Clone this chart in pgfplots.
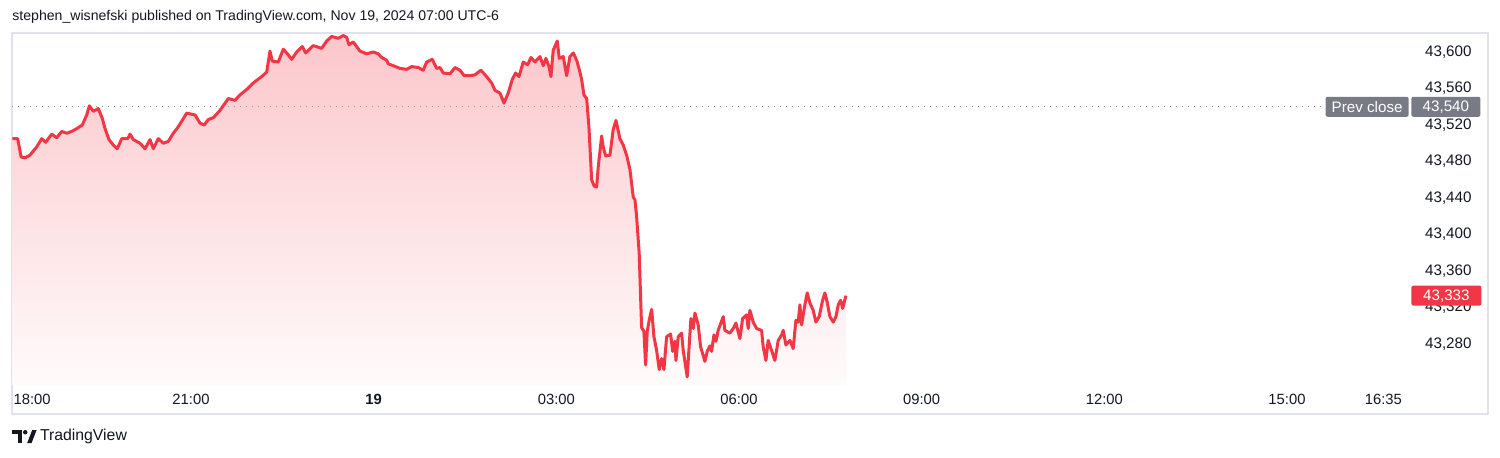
\documentclass[border=0pt]{standalone}
\usepackage{fontspec}
\setmainfont{Liberation Sans}
\usepackage{pgfplots}
\usepackage{pgfplotstable}
\pgfplotsset{compat=1.18}
\definecolor{tvred}{HTML}{F23645}
\definecolor{tvtext}{HTML}{131722}
\definecolor{tvgray}{HTML}{787B86}
\definecolor{tvdot}{HTML}{9598A1}
\definecolor{tvborder}{HTML}{E0E3EB}

\pgfplotstableread{
h p
0.066 43505
0.154 43505
0.209 43485
0.274 43484
0.356 43487
0.466 43496
0.548 43505
0.614 43501
0.657 43505
0.713 43510
0.795 43506
0.877 43513
0.959 43511
1.041 43513
1.123 43516
1.215 43520
1.287 43531
1.330 43541
1.396 43535
1.478 43538
1.544 43527
1.588 43516
1.653 43504
1.724 43498
1.790 43494
1.862 43505
1.961 43505
1.998 43510
2.053 43504
2.163 43500
2.245 43494
2.327 43504
2.381 43494
2.463 43505
2.545 43500
2.627 43502
2.709 43511
2.791 43518
2.929 43533
3.066 43531
3.148 43522
3.218 43520
3.284 43526
3.366 43528
3.476 43536
3.612 43549
3.722 43547
3.805 43553
3.915 43559
4.023 43566
4.079 43569
4.161 43573
4.243 43578
4.297 43601
4.335 43590
4.433 43589
4.516 43603
4.571 43599
4.654 43592
4.736 43600
4.828 43606
4.883 43599
5.008 43607
5.146 43604
5.228 43612
5.310 43617
5.419 43615
5.501 43618
5.557 43616
5.594 43608
5.665 43611
5.775 43601
5.885 43598
5.993 43600
6.076 43598
6.131 43594
6.213 43591
6.240 43587
6.322 43585
6.432 43582
6.542 43581
6.624 43584
6.732 43583
6.814 43580
6.870 43589
6.962 43592
7.034 43582
7.089 43583
7.143 43577
7.253 43576
7.335 43583
7.417 43580
7.488 43574
7.581 43574
7.663 43575
7.762 43580
7.855 43573
7.938 43566
7.992 43558
8.074 43555
8.140 43544
8.210 43555
8.276 43570
8.332 43577
8.386 43573
8.456 43589
8.529 43586
8.583 43594
8.649 43589
8.731 43595
8.785 43585
8.829 43593
8.879 43584
8.911 43573
8.949 43602
9.015 43612
9.048 43593
9.113 43595
9.169 43574
9.223 43595
9.278 43599
9.333 43591
9.376 43581
9.415 43570
9.453 43553
9.498 43549
9.535 43518
9.580 43460
9.622 43453
9.662 43452
9.688 43474
9.744 43508
9.770 43496
9.810 43486
9.880 43487
9.934 43515
9.979 43525
10.044 43505
10.099 43498
10.154 43487
10.209 43471
10.263 43441
10.291 43438
10.318 43420
10.361 43379
10.400 43298
10.438 43294
10.466 43257
10.493 43294
10.525 43306
10.565 43318
10.603 43288
10.647 43273
10.690 43252
10.729 43264
10.767 43252
10.811 43288
10.877 43291
10.910 43272
10.947 43283
10.964 43262
11.002 43288
11.057 43292
11.084 43273
11.149 43244
11.210 43308
11.248 43297
11.276 43314
11.330 43301
11.369 43277
11.440 43261
11.478 43272
11.522 43278
11.550 43272
11.588 43290
11.621 43283
11.658 43295
11.741 43310
11.768 43295
11.850 43292
11.905 43297
11.949 43303
12.015 43286
12.059 43308
12.125 43312
12.151 43297
12.179 43317
12.233 43304
12.289 43297
12.371 43295
12.397 43277
12.442 43262
12.479 43284
12.535 43273
12.589 43262
12.644 43284
12.700 43290
12.726 43295
12.770 43279
12.836 43284
12.890 43275
12.934 43306
12.972 43304
13.000 43323
13.028 43301
13.082 43323
13.120 43336
13.164 43325
13.218 43317
13.263 43304
13.317 43310
13.373 43328
13.410 43336
13.448 43326
13.493 43310
13.548 43304
13.592 43310
13.630 43323
13.669 43328
13.702 43319
13.756 43333
}\pricedata

\pgfplotstableread{
h p
0.06 43540
23.02 43540
}\prevclose

\begin{document}
\begin{tikzpicture}
\useasboundingbox (0,0) rectangle (750pt,-228.5pt);
\fill[white] (0,0) rectangle (750pt,-228.5pt);
% pane border
\draw[tvborder, line width=0.6pt] (6pt,-16.5pt) rectangle (744pt,-207pt);
% title
\node[anchor=west, inner sep=0pt, text=tvtext, font=\fontsize{7.05pt}{9pt}\selectfont] at (6pt,-8.6pt)
  {stephen\_wisnefski published on TradingView.com, Nov 19, 2024 07:00 UTC-6};
\begin{axis}[
  at={(6pt,-192.5pt)}, anchor=south west,
  scale only axis, width=699pt, height=176pt,
  xmin=0.06, xmax=23.02, ymin=43235.1, ymax=43620.8,
  axis line style={draw=none},
  major tick length=0pt,
  xtick={0.39,3,6,9,12,15,18,21,22.583},
  xticklabels={18:00,21:00,\textbf{19},03:00,06:00,09:00,12:00,15:00,16:35},
  xticklabel style={anchor=center, yshift=-7pt, inner sep=0pt, text=tvtext, font=\fontsize{7.4pt}{9pt}\selectfont},
  ytick={43280,43320,43360,43400,43440,43480,43520,43560,43600},
  scaled y ticks=false,
  yticklabel pos=right,
  yticklabel style={anchor=east, xshift=31pt, inner sep=0pt, text=tvtext, font=\fontsize{7.6pt}{9pt}\selectfont,
    /pgf/number format/fixed, /pgf/number format/precision=0,
    /pgf/number format/1000 sep={,}, /pgf/number format/assume math mode=true},
  clip=true,
]
\addplot[draw=none, top color=tvred!28!white, bottom color=tvred!2!white]
  table[x=h, y=p] {\pricedata} -- (axis cs:13.756,43235.1) -- (axis cs:0.066,43235.1) -- cycle;
\addplot[tvdot, line width=0.7pt, dash pattern=on 0.7pt off 2.3pt] table[x=h, y=p] {\prevclose};
\addplot[tvred, line width=1.5pt, line join=round] table[x=h, y=p] {\pricedata};
\coordinate (pc) at (axis cs:23.02,43540);
\coordinate (lp) at (axis cs:23.02,43333);
\end{axis}
% price labels
\node[anchor=east, fill=tvgray, text=white, rounded corners=1pt, inner sep=0pt, minimum width=41.5pt, minimum height=10pt,
  font=\fontsize{7.6pt}{9pt}\selectfont] at ([xshift=-0.5pt]pc) {Prev close};
\node[anchor=west, fill=tvgray, text=white, rounded corners=1pt, inner sep=0pt, minimum width=34.5pt, minimum height=10pt,
  font=\fontsize{7.6pt}{9pt}\selectfont] at ([xshift=0.5pt]pc) {43,540};
\node[anchor=west, fill=tvred, text=white, rounded corners=1pt, inner sep=0pt, minimum width=35pt, minimum height=10pt,
  font=\fontsize{7.6pt}{9pt}\selectfont] at ([xshift=0.5pt]lp) {43,333};
% footer logo
\fill[tvtext] (6pt,-215pt) rectangle (11pt,-217.2pt);
\fill[tvtext] (8.8pt,-215pt) rectangle (11pt,-221.5pt);
\fill[tvtext] (12.6pt,-216.1pt) circle (1.1pt);
\fill[tvtext] (13.6pt,-221.5pt) -- (15.8pt,-221.5pt) -- (18.3pt,-215pt) -- (16.1pt,-215pt) -- cycle;
\node[anchor=west, inner sep=0pt, text=tvtext, font=\fontsize{7.9pt}{9pt}\selectfont] at (19.8pt,-218.4pt) {TradingView};
\end{tikzpicture}
\end{document}
